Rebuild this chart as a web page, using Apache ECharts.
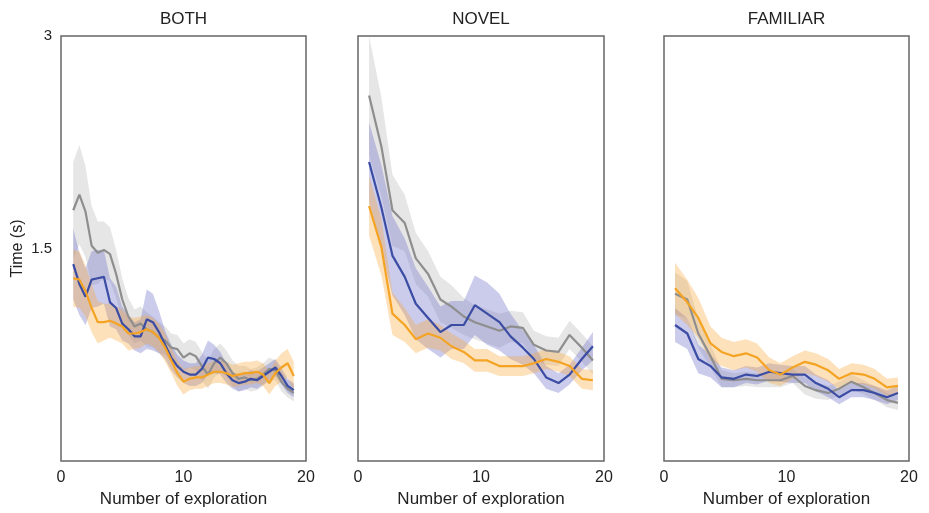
<!DOCTYPE html>
<html>
<head>
<meta charset="utf-8">
<script src="https://cdn.jsdelivr.net/npm/echarts@6/dist/echarts.min.js"></script>
<style>
  html, body { margin: 0; padding: 0; background: #fff; }
  #chart { width: 929px; height: 513px; }
</style>
</head>
<body>
<div id="chart"></div>
<script>
// exploration number (x) for each point
const xBoth = [1,1.5,2,2.5,3,3.5,4,4.5,5,5.5,6,6.5,7,7.5,8,8.5,9,9.5,10,10.5,11,11.5,12,12.5,13,13.5,14,14.5,15,15.5,16,16.5,17,17.5,18,18.5,19]
const xTrial = [0.9,1.9,2.8,3.8,4.7,5.7,6.7,7.6,8.6,9.5,10.5,11.5,12.4,13.4,14.3,15.3,16.3,17.2,18.2,19.1]

// BOTH
const bothGray = [1.77,1.88,1.76,1.52,1.47,1.49,1.46,1.32,1.14,1.02,0.95,0.97,0.93,0.91,0.87,0.85,0.80,0.79,0.73,0.76,0.74,0.67,0.61,0.69,0.73,0.69,0.62,0.58,0.59,0.57,0.58,0.61,0.65,0.64,0.56,0.51,0.48]
const bothGrayErr = [0.34,0.35,0.32,0.28,0.22,0.2,0.19,0.17,0.15,0.13,0.12,0.12,0.12,0.11,0.11,0.1,0.1,0.1,0.1,0.1,0.1,0.1,0.1,0.1,0.1,0.09,0.09,0.09,0.08,0.08,0.08,0.08,0.08,0.07,0.07,0.06,0.06]
const bothBlue = [1.39,1.25,1.16,1.28,1.29,1.30,1.12,1.08,0.97,0.93,0.88,0.88,1.00,0.98,0.91,0.82,0.73,0.67,0.63,0.61,0.61,0.65,0.73,0.72,0.69,0.62,0.57,0.55,0.56,0.58,0.57,0.60,0.63,0.66,0.60,0.53,0.50]
const bothBlueErr = [0.25,0.22,0.2,0.2,0.2,0.19,0.17,0.15,0.12,0.1,0.1,0.12,0.21,0.2,0.15,0.1,0.09,0.08,0.08,0.08,0.08,0.1,0.12,0.1,0.08,0.07,0.06,0.06,0.06,0.06,0.06,0.06,0.06,0.06,0.06,0.05,0.05]
const bothOrange = [1.29,1.28,1.20,1.08,0.98,0.98,0.99,0.97,0.95,0.90,0.90,0.91,0.93,0.91,0.87,0.80,0.71,0.62,0.56,0.58,0.59,0.59,0.61,0.63,0.63,0.62,0.60,0.61,0.62,0.62,0.63,0.61,0.55,0.62,0.66,0.69,0.60]
const bothOrangeErr = [0.2,0.2,0.18,0.17,0.15,0.13,0.12,0.12,0.12,0.12,0.11,0.11,0.1,0.1,0.1,0.1,0.09,0.09,0.09,0.08,0.08,0.08,0.08,0.08,0.08,0.08,0.08,0.08,0.08,0.08,0.08,0.08,0.08,0.09,0.1,0.1,0.1]

// NOVEL
const novelGray = [2.58,2.22,1.77,1.68,1.43,1.32,1.14,1.09,1.02,0.98,0.95,0.92,0.95,0.94,0.82,0.78,0.77,0.89,0.80,0.71]
const novelGrayErr = [0.42,0.35,0.25,0.2,0.18,0.16,0.16,0.15,0.13,0.12,0.12,0.12,0.11,0.11,0.1,0.1,0.1,0.1,0.1,0.1]
const novelBlue = [2.11,1.79,1.45,1.30,1.11,1.01,0.91,0.96,0.96,1.10,1.04,0.98,0.88,0.80,0.72,0.59,0.55,0.61,0.72,0.81]
const novelBlueErr = [0.28,0.3,0.28,0.27,0.25,0.22,0.18,0.17,0.17,0.21,0.22,0.2,0.16,0.12,0.1,0.08,0.07,0.07,0.08,0.1]
const novelOrange = [1.80,1.51,1.04,0.96,0.86,0.90,0.87,0.81,0.77,0.71,0.71,0.67,0.67,0.67,0.69,0.72,0.70,0.67,0.58,0.57]
const novelOrangeErr = [0.21,0.2,0.15,0.12,0.1,0.1,0.09,0.09,0.08,0.08,0.08,0.07,0.07,0.07,0.07,0.07,0.07,0.07,0.07,0.07]

// FAMILIAR
const famGray = [1.18,1.14,0.90,0.74,0.58,0.57,0.58,0.57,0.57,0.57,0.60,0.53,0.50,0.48,0.51,0.56,0.52,0.48,0.43,0.41]
const famGrayErr = [0.15,0.13,0.1,0.08,0.06,0.05,0.05,0.05,0.05,0.05,0.05,0.06,0.06,0.05,0.05,0.05,0.05,0.05,0.05,0.05]
const famBlue = [0.96,0.90,0.72,0.67,0.59,0.58,0.61,0.60,0.63,0.62,0.61,0.61,0.55,0.51,0.45,0.50,0.50,0.48,0.45,0.48]
const famBlueErr = [0.12,0.11,0.1,0.08,0.07,0.06,0.06,0.06,0.06,0.06,0.06,0.06,0.06,0.06,0.05,0.05,0.05,0.05,0.05,0.05]
const famOrange = [1.22,1.12,1.01,0.83,0.77,0.74,0.76,0.73,0.64,0.61,0.66,0.70,0.68,0.64,0.58,0.62,0.61,0.58,0.52,0.53]
const famOrangeErr = [0.18,0.16,0.14,0.12,0.1,0.1,0.1,0.1,0.09,0.08,0.08,0.08,0.08,0.08,0.07,0.07,0.07,0.07,0.06,0.06]

const titles = ['BOTH', 'NOVEL', 'FAMILIAR']
const grids = [
  {left: 61, top: 36, width: 245, height: 430},
  {left: 358, top: 36, width: 246, height: 430},
  {left: 664, top: 36, width: 245, height: 430}
]
const colors = {
  gray:   {line: '#8e8e8e', band: 'rgba(185,185,185,0.36)'},
  blue:   {line: '#3a4ca3', band: 'rgba(110,110,200,0.36)'},
  orange: {line: '#f4a323', band: 'rgba(250,170,60,0.35)'}
}
const font = 'Liberation Sans, Arial, sans-serif'

const panels = [
  {xs: xBoth, lines: [['gray', bothGray, bothGrayErr], ['blue', bothBlue, bothBlueErr], ['orange', bothOrange, bothOrangeErr]]},
  {xs: xTrial, lines: [['gray', novelGray, novelGrayErr], ['blue', novelBlue, novelBlueErr], ['orange', novelOrange, novelOrangeErr]]},
  {xs: xTrial, lines: [['gray', famGray, famGrayErr], ['blue', famBlue, famBlueErr], ['orange', famOrange, famOrangeErr]]}
]

// shaded band = mean +/- err, drawn as one polygon through the axis scale
function bandSeries(idx, xs, mean, err, color) {
  const lo = mean.map((v, i) => v - err[i])
  const hi = mean.map((v, i) => v + err[i])
  return {
    type: 'custom',
    xAxisIndex: idx,
    yAxisIndex: idx,
    silent: true,
    clip: true,
    data: xs.map((x, i) => [x, lo[i], hi[i]]),
    renderItem: function (params, api) {
      if (params.dataIndex !== 0) return null
      let pts = []
      for (let i = 0; i < xs.length; i++) pts.push(api.coord([xs[i], hi[i]]))
      for (let i = xs.length - 1; i >= 0; i--) pts.push(api.coord([xs[i], lo[i]]))
      return {
        type: 'polygon',
        shape: {points: pts},
        style: {fill: color}
      }
    }
  }
}

let series = []
panels.forEach((p, idx) => {
  p.lines.forEach(l => series.push(bandSeries(idx, p.xs, l[1], l[2], colors[l[0]].band)))
})
panels.forEach((p, idx) => {
  p.lines.forEach(l => {
    series.push({
      type: 'line',
      xAxisIndex: idx,
      yAxisIndex: idx,
      symbol: 'none',
      silent: true,
      lineStyle: {color: colors[l[0]].line, width: 2.2},
      data: p.xs.map((x, i) => [x, l[1][i]])
    })
  })
})

let chart = echarts.init(document.getElementById('chart'))
chart.setOption({
  animation: false,
  backgroundColor: '#fff',
  textStyle: {fontFamily: font},
  graphic: titles.map((t, i) => ({
    type: 'text',
    x: grids[i].left + grids[i].width / 2,
    y: 19,
    style: {text: t, font: '17px ' + font, fill: '#222', textAlign: 'center', textVerticalAlign: 'middle'}
  })),
  grid: grids.map(g => Object.assign({show: true, borderColor: '#666', borderWidth: 1.5, containLabel: false}, g)),
  xAxis: grids.map((g, i) => ({
    type: 'value',
    gridIndex: i,
    min: 0,
    max: 20,
    interval: 10,
    name: 'Number of exploration',
    nameLocation: 'middle',
    nameGap: 30,
    nameTextStyle: {fontSize: 17, color: '#222', fontFamily: font},
    axisLine: {show: false},
    axisTick: {show: false},
    splitLine: {show: false},
    axisLabel: {fontSize: 16, color: '#222', margin: 9, fontFamily: font}
  })),
  yAxis: grids.map((g, i) => ({
    type: 'value',
    gridIndex: i,
    min: 0,
    max: 3,
    interval: 1.5,
    name: i === 0 ? 'Time (s)' : '',
    nameLocation: 'middle',
    nameGap: 35,
    nameTextStyle: {fontSize: 16, color: '#222', fontFamily: font},
    axisLine: {show: false},
    axisTick: {show: false},
    splitLine: {show: false},
    axisLabel: {
      show: i === 0,
      fontSize: 15,
      color: '#222',
      margin: 9,
      fontFamily: font,
      formatter: v => (v === 0 ? '' : String(v))
    }
  })),
  series: series
})
</script>
</body>
</html>
